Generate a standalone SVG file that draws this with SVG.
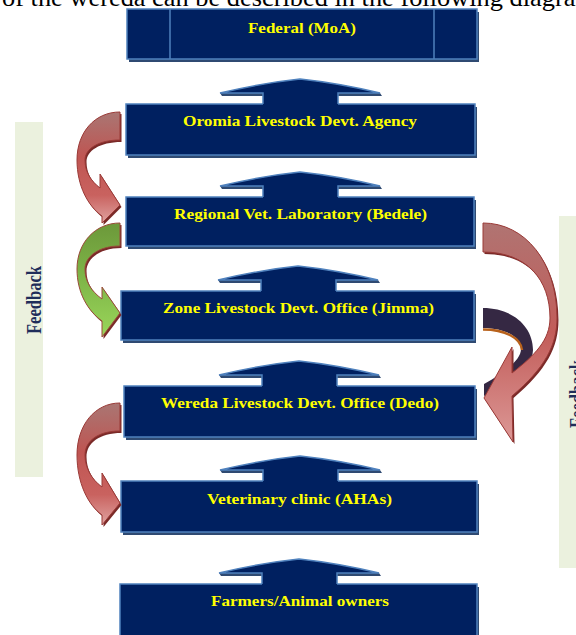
<svg xmlns="http://www.w3.org/2000/svg" xmlns:xlink="http://www.w3.org/1999/xlink" width="576" height="635" viewBox="0 0 576 635">
<defs>
<style>
.box{fill:#002060;stroke:#4f81bd;stroke-width:1.5}
.bsh{fill:#2f4a72}
.lbl{font-family:"Liberation Serif","Times New Roman",serif;font-weight:bold;font-size:15.5px;fill:#ffff00;text-anchor:middle}
.fb{fill:#ebf1de}
.fbt{font-family:"Liberation Serif","Times New Roman",serif;font-weight:bold;font-size:21px;fill:#1f2d5a;text-anchor:middle}
.upf{fill:#002060}
.ups{fill:none;stroke:#4f81bd;stroke-width:1.5;stroke-linejoin:miter}
.upsh{fill:#2f4a72}
.csh{fill:#7a2a28}
.cred{fill:url(#gRed);stroke:#9a3a37;stroke-width:1}
.cgrn{fill:url(#gGreen);stroke:#9a4a3a;stroke-width:1}
.credR{fill:url(#gRedR);stroke:#9a3a37;stroke-width:1}
</style>
<linearGradient id="gRed" x1="0" y1="0" x2="0" y2="1">
<stop offset="0" stop-color="#a97673"/>
<stop offset="0.4" stop-color="#bf5552"/>
<stop offset="0.75" stop-color="#c9625f"/>
<stop offset="1" stop-color="#e0a3a1"/>
</linearGradient>
<linearGradient id="gGreen" x1="0" y1="0" x2="0" y2="1">
<stop offset="0" stop-color="#6c983a"/>
<stop offset="0.5" stop-color="#7fb648"/>
<stop offset="1" stop-color="#9ad65a"/>
</linearGradient>
<linearGradient id="gRedR" x1="0" y1="0" x2="0" y2="1">
<stop offset="0" stop-color="#b07472"/>
<stop offset="0.5" stop-color="#c25c59"/>
<stop offset="1" stop-color="#dc9896"/>
</linearGradient>
<path id="upF" d="M-80,14 Q-38,4 0,0 Q38,4 80,14 L38,14 L38,26 L-37,26 L-37,14 Z"/>
<path id="upS" d="M-37,25 L-37,14 L-80,14 Q-38,4 0,0 Q38,4 80,14 L38,14 L38,25"/>
<path id="upW" d="M-80,14 L-37,14 L-37,17 L-78,17 Z M38,14 L80,14 L82,17 L38,17 Z"/>
</defs>
<rect x="0" y="0" width="576" height="635" fill="#ffffff"/>

<text x="2" y="6" font-family="Liberation Serif, 'Times New Roman', serif" font-size="25.5" fill="#000000" textLength="594" lengthAdjust="spacingAndGlyphs">of the wereda can be described in the following diagram</text>

<g id="feedback-left">
<rect class="fb" x="15" y="122" width="28" height="355"/>
<text class="fbt" transform="translate(41,300) rotate(-90)" textLength="68" lengthAdjust="spacingAndGlyphs">Feedback</text>
</g>
<g id="feedback-right">
<rect class="fb" x="559" y="216" width="30" height="352"/>
<text class="fbt" transform="translate(584,394) rotate(-90)" textLength="68" lengthAdjust="spacingAndGlyphs">Feedback</text>
</g>

<g id="federal">
<rect class="bsh" x="129" y="12" width="350" height="50"/>
<rect class="box" x="127" y="9" width="350" height="50"/>
<line x1="170" y1="9" x2="170" y2="59" stroke="#4f81bd" stroke-width="1.5"/>
<line x1="434" y1="9" x2="434" y2="59" stroke="#4f81bd" stroke-width="1.5"/>
<text class="lbl" x="302" y="33" textLength="108" lengthAdjust="spacingAndGlyphs">Federal (MoA)</text>
</g>
<g id="oromia">
<rect class="bsh" x="128" y="107" width="349" height="51"/>
<rect class="box" x="126" y="104" width="349" height="51"/>
<text class="lbl" x="300" y="126" textLength="234" lengthAdjust="spacingAndGlyphs">Oromia Livestock Devt. Agency</text>
</g>
<g id="regional">
<rect class="bsh" x="128" y="200" width="348" height="49"/>
<rect class="box" x="126" y="197" width="348" height="49"/>
<text class="lbl" x="300.5" y="219" textLength="253" lengthAdjust="spacingAndGlyphs">Regional Vet. Laboratory (Bedele)</text>
</g>
<g id="zone">
<rect class="bsh" x="123" y="294" width="353" height="49"/>
<rect class="box" x="121" y="291" width="353" height="49"/>
<text class="lbl" x="298.5" y="313" textLength="271" lengthAdjust="spacingAndGlyphs">Zone Livestock Devt. Office (Jimma)</text>
</g>
<g id="wereda">
<rect class="bsh" x="126" y="389" width="351" height="51"/>
<rect class="box" x="124" y="386" width="351" height="51"/>
<text class="lbl" x="300" y="408" textLength="278" lengthAdjust="spacingAndGlyphs">Wereda Livestock Devt. Office (Dedo)</text>
</g>
<g id="veterinary">
<rect class="bsh" x="123" y="484" width="356" height="51"/>
<rect class="box" x="121" y="481" width="356" height="51"/>
<text class="lbl" x="299.5" y="504" textLength="185" lengthAdjust="spacingAndGlyphs">Veterinary clinic (AHAs)</text>
</g>
<g id="farmers">
<rect class="bsh" x="122" y="587" width="357" height="60"/>
<rect class="box" x="120" y="584" width="357" height="60"/>
<text class="lbl" x="300" y="606" textLength="178" lengthAdjust="spacingAndGlyphs">Farmers/Animal owners</text>
</g>

<g id="connectors">
<g transform="translate(300,79)"><use xlink:href="#upW" class="upsh"/><use xlink:href="#upF" class="upf"/><use xlink:href="#upS" class="ups"/></g>
<g transform="translate(300,172)"><use xlink:href="#upW" class="upsh"/><use xlink:href="#upF" class="upf"/><use xlink:href="#upS" class="ups"/></g>
<g transform="translate(298,266)"><use xlink:href="#upW" class="upsh"/><use xlink:href="#upF" class="upf"/><use xlink:href="#upS" class="ups"/></g>
<g transform="translate(299,361)"><use xlink:href="#upW" class="upsh"/><use xlink:href="#upF" class="upf"/><use xlink:href="#upS" class="ups"/></g>
<g transform="translate(300,456)"><use xlink:href="#upW" class="upsh"/><use xlink:href="#upF" class="upf"/><use xlink:href="#upS" class="ups"/></g>
<g transform="translate(299,559)"><use xlink:href="#upW" class="upsh"/><use xlink:href="#upF" class="upf"/><use xlink:href="#upS" class="ups"/></g>

<g transform="translate(120,112)">
<path class="csh" transform="translate(1.5,2)" d="M0,0 C-25,0 -43,20 -43,48 C-43,74 -32,94 -18,104 L-18,111 L0,93 L-20,62 L-20,76 C-29,69 -35,60 -35,48 C-35,37 -22,28 0,28 Z"/>
<path class="cred" d="M0,0 C-25,0 -43,20 -43,48 C-43,74 -32,94 -18,104 L-18,111 L0,93 L-20,62 L-20,76 C-29,69 -35,60 -35,48 C-35,37 -22,28 0,28 Z"/>
</g>
<g transform="translate(120,223)">
<path class="csh" transform="translate(1.5,2)" d="M0,0 C-25,0 -43,20 -43,46 C-43,70 -32,88 -18,98 L-18,114 L0,90 L-18,64 L-18,76 C-29,68 -35,58 -35,46 C-35,34 -22,23 0,23 Z"/>
<path class="cgrn" d="M0,0 C-25,0 -43,20 -43,46 C-43,70 -32,88 -18,98 L-18,114 L0,90 L-18,64 L-18,76 C-29,68 -35,58 -35,46 C-35,34 -22,23 0,23 Z"/>
</g>
<g transform="translate(120,403)">
<path class="csh" transform="translate(1.5,2)" d="M0,0 C-25,0 -43,22 -43,52 C-43,80 -32,102 -18,112 L-18,122 L0,100 L-18,70 L-18,84 C-29,76 -35,64 -35,52 C-35,38 -22,28 0,28 Z"/>
<path class="cred" d="M0,0 C-25,0 -43,22 -43,52 C-43,80 -32,102 -18,112 L-18,122 L0,100 L-18,70 L-18,84 C-29,76 -35,64 -35,52 C-35,38 -22,28 0,28 Z"/>
</g>

<path d="M483,308 C512,308 533,326 533,350 C533,366 512,382 484,396 L484,384 C505,372 521,360 521,349 C521,337 505,328 483,328 Z" fill="#352843"/>
<path d="M483,329.5 C505,329.5 521,338 522,350" fill="none" stroke="#b8621c" stroke-width="2.5"/>
<path class="csh" transform="translate(1.5,2)" d="M483,223 C525,223 557,262 557,318 C557,345 545,368 512,396 L513,442 L484,398 L512,347 L512,373 C535,355 550,340 550,318 C550,280 527,252 483,252 Z"/>
<path class="credR" d="M483,223 C525,223 557,262 557,318 C557,345 545,368 512,396 L513,442 L484,398 L512,347 L512,373 C535,355 550,340 550,318 C550,280 527,252 483,252 Z"/>
</g>
</svg>
